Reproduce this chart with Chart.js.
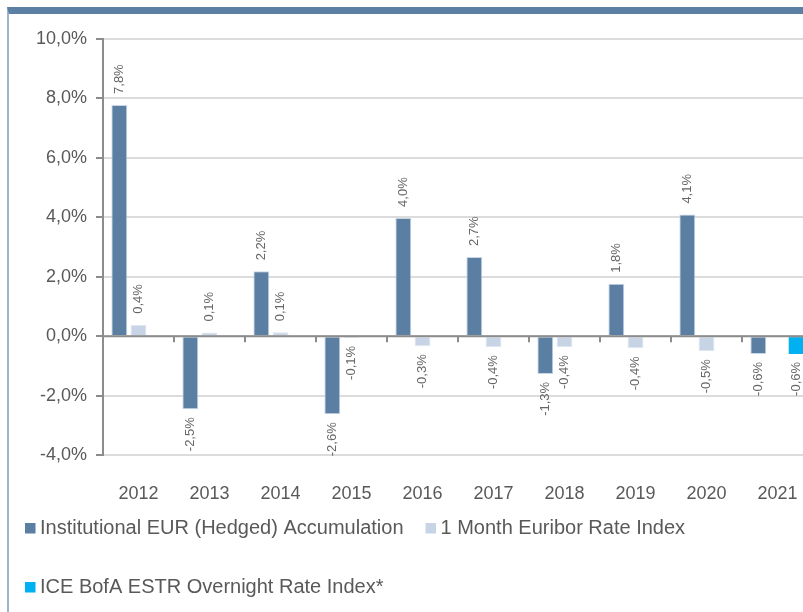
<!DOCTYPE html>
<html>
<head>
<meta charset="utf-8">
<script src="https://cdn.jsdelivr.net/npm/chart.js@4/dist/chart.umd.min.js"></script>
<style>
  html, body { margin: 0; padding: 0; background: #ffffff; overflow: hidden; width: 803px; height: 612px; }
  #frame { position: absolute; left: 7px; top: 7px; width: 900px; height: 700px;
           border-top: 7px solid #5b80a4; border-left: 2px solid #9fb4cd; box-sizing: border-box; }
  #c { position: absolute; left: 0; top: 0; }
</style>
</head>
<body>
<div id="frame"></div>
<canvas id="c" width="830" height="612"></canvas>
<script>
const categories = ['2012','2013','2014','2015','2016','2017','2018','2019','2020','2021'];
const institutionalEUR = [7.78, -2.46, 2.18, -2.63, 3.98, 2.66, -1.27, 1.76, 4.09, -0.6];
const euriborIndex = [0.38, 0.12, 0.13, -0.06, -0.34, -0.37, -0.37, -0.41, -0.51, null];
const estrIndex = [null, null, null, null, null, null, null, null, null, -0.6];
const seriesNames = ['Institutional EUR (Hedged) Accumulation', '1 Month Euribor Rate Index', 'ICE BofA ESTR Overnight Rate Index*'];
const yTicks = { min: -4, max: 10, step: 2 };

const FONT = '"Liberation Sans", Arial, sans-serif';
const fmt = v => v.toFixed(1).replace('.', ',') + '%';

const zeroLinePlugin = {
  id: 'zeroLine',
  afterDatasetsDraw(chart) {
    const ctx = chart.ctx, xs = chart.scales.x, ys = chart.scales.y, ca = chart.chartArea;
    const y0 = ys.getPixelForValue(0);
    ctx.save();
    ctx.strokeStyle = '#8c8c8c';
    ctx.lineWidth = 2;
    ctx.beginPath();
    ctx.moveTo(ca.left, y0); ctx.lineTo(ca.right, y0);
    const n = categories.length;
    for (let i = 0; i < n; i++) {
      let bx;
      if (i < n - 1) bx = (xs.getPixelForTick(i) + xs.getPixelForTick(i + 1)) / 2;
      else bx = ca.right;
      ctx.moveTo(bx, y0); ctx.lineTo(bx, y0 + 6);
    }
    ctx.stroke();
    ctx.restore();
  }
};

const dataLabelPlugin = {
  id: 'dataLabels',
  afterDatasetsDraw(chart) {
    const ctx = chart.ctx;
    ctx.save();
    ctx.font = '13px ' + FONT;
    ctx.fillStyle = '#666666';
    ctx.textBaseline = 'middle';
    chart.data.datasets.forEach((ds, di) => {
      const meta = chart.getDatasetMeta(di);
      meta.data.forEach((el, i) => {
        const v = ds.data[i];
        if (v === null || v === undefined) return;
        ctx.save();
        if (v >= 0) {
          ctx.translate(el.x, el.y - 11);
          ctx.rotate(-Math.PI / 2);
          ctx.textAlign = 'left';
        } else {
          ctx.translate(el.x, el.y + 8);
          ctx.rotate(-Math.PI / 2);
          ctx.textAlign = 'right';
        }
        ctx.fillText(fmt(v), 0, 0);
        ctx.restore();
      });
    });
    ctx.restore();
  }
};

const legendPlugin = {
  id: 'customLegend',
  afterDraw(chart) {
    const ctx = chart.ctx;
    ctx.save();
    ctx.font = '20px ' + FONT;
    ctx.textBaseline = 'middle';
    ctx.textAlign = 'left';
    const startX = 25, box = 10.5, textGap = 4.5, itemGap = 22, maxRight = 790;
    let x = startX, y = 528;
    chart.data.datasets.forEach(ds => {
      const w = box + textGap + ctx.measureText(ds.label).width;
      if (x > startX && x + w > maxRight) { x = startX; y += 59; }
      ctx.fillStyle = ds.backgroundColor;
      ctx.fillRect(x, y - 5, box, box);
      ctx.fillStyle = '#595959';
      ctx.fillText(ds.label, x + box + textGap, y);
      x += w + itemGap;
    });
    ctx.restore();
  }
};

new Chart(document.getElementById('c'), {
  type: 'bar',
  data: {
    labels: categories,
    datasets: [
      { label: seriesNames[0], data: institutionalEUR, backgroundColor: '#5b7fa3', borderColor: '#c9d6e6', borderWidth: 1 },
      { label: seriesNames[1], data: euriborIndex, backgroundColor: '#c6d4e6', borderColor: '#dfe7f1', borderWidth: 1 },
      { label: seriesNames[2], data: estrIndex, backgroundColor: '#00b0f0', borderWidth: 0 }
    ]
  },
  options: {
    responsive: false,
    animation: false,
    devicePixelRatio: 1,
    categoryPercentage: 0.81,
    barPercentage: 0.83,
    layout: { padding: { top: 39, left: 0, right: 17, bottom: 97 } },
    plugins: { legend: { display: false }, tooltip: { enabled: false } },
    scales: {
      x: {
        grid: { display: false, drawTicks: false },
        border: { display: false },
        ticks: { font: { family: FONT, size: 18 }, color: '#595959', padding: 28 },
        afterFit: s => { s.height = 60; }
      },
      y: {
        min: yTicks.min, max: yTicks.max,
        ticks: { stepSize: yTicks.step, font: { family: FONT, size: 18 }, color: '#595959', padding: 9,
                 callback: v => fmt(v) },
        grid: { color: '#dcdcdc', lineWidth: 2, tickColor: '#8c8c8c', tickLength: 7 },
        border: { display: true, color: '#8c8c8c', width: 2 },
        afterFit: s => { s.width = 103; }
      }
    }
  },
  plugins: [zeroLinePlugin, dataLabelPlugin, legendPlugin]
});
</script>
</body>
</html>
